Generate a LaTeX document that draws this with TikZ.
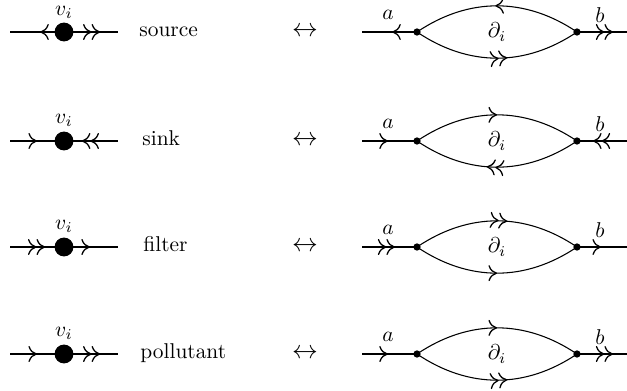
\documentclass[tikz,border=0pt]{standalone}
\usetikzlibrary{arrows.meta,decorations.markings}
\tikzset{
  tp/.tip={Computer Modern Rightarrow[length=4pt,width=7.5pt,line width=0.6pt]},
  fw/.style={postaction={decorate,decoration={markings,mark=at position #1 with {\arrow{tp}}}}},
  bw/.style={postaction={decorate,decoration={markings,mark=at position #1 with {\arrowreversed{tp}}}}},
  fww/.style={postaction={decorate,decoration={markings,mark=at position #1 with {\arrow{tp[]tp[]}}}}},
  bww/.style={postaction={decorate,decoration={markings,mark=at position #1 with {\arrowreversed{tp[]tp[]}}}}},
  bigdot/.style={circle,fill,inner sep=0pt,minimum size=8.8pt},
  smalldot/.style={circle,fill,inner sep=0pt,minimum size=3.4pt},
  lbl/.style={anchor=base west,inner sep=0pt},
  eqv/.style={font=\large},
  ln/.style={line width=0.5pt},
}
\begin{document}
\begin{tikzpicture}[x=0.467pt,y=-0.467pt]
\useasboundingbox (0,0) rectangle (627,390);
% Row 1: source (y=32)
\coordinate (L1) at (10,32); \node[bigdot] (V1) at (64,32) {}; \coordinate (R1) at (118,32);
\node at (64,12) {$v_i$};
\node[lbl] (t1) at (139,36.5) {source};
\node[eqv] (e1) at (305,32) {$\leftrightarrow$};
\coordinate (A1) at (362,32); \node[smalldot] (P1) at (417,32) {}; \node[smalldot] (Q1) at (577,32) {}; \coordinate (B1) at (627,32);
\node at (388,15) {$a$}; \node at (600,15) {$b$}; \node at (497,32) {$\partial_i$};
\draw[ln,bw=0.49] (P1.center) to[bend left=34] (Q1.center);
\draw[ln,fww=0.56] (P1.center) to[bend right=34] (Q1.center);
\draw[ln,bw=0.56] (L1) -- (V1.center);
\draw[ln,fww=0.67] (V1.center) -- (R1);
\draw[ln,bw=0.55] (A1) -- (P1.center);
\draw[ln,fww=0.72] (Q1.center) -- (B1);
% Row 2: sink (y=141)
\coordinate (L2) at (10,141); \node[bigdot] (V2) at (64,141) {}; \coordinate (R2) at (118,141);
\node at (64,120) {$v_i$};
\node[lbl] (t2) at (142,145.5) {sink};
\node[eqv] (e2) at (305,141) {$\leftrightarrow$};
\coordinate (A2) at (362,141); \node[smalldot] (P2) at (417,141) {}; \node[smalldot] (Q2) at (577,141) {}; \coordinate (B2) at (627,141);
\node at (388,124) {$a$}; \node at (600,124) {$b$}; \node at (497,141) {$\partial_i$};
\draw[ln,fw=0.5] (P2.center) to[bend left=34] (Q2.center);
\draw[ln,bww=0.44] (P2.center) to[bend right=34] (Q2.center);
\draw[ln,fw=0.5] (L2) -- (V2.center);
\draw[ln,bww=0.33] (V2.center) -- (R2);
\draw[ln,fw=0.47] (A2) -- (P2.center);
\draw[ln,bww=0.32] (Q2.center) -- (B2);
% Row 3: filter (y=247)
\coordinate (L3) at (10,247); \node[bigdot] (V3) at (64,247) {}; \coordinate (R3) at (118,247);
\node at (64,226) {$v_i$};
\node[lbl] (t3) at (143,251.5) {filter};
\node[eqv] (e3) at (305,247) {$\leftrightarrow$};
\coordinate (A3) at (362,247); \node[smalldot] (P3) at (417,247) {}; \node[smalldot] (Q3) at (577,247) {}; \coordinate (B3) at (627,247);
\node at (388,230) {$a$}; \node at (600,230) {$b$}; \node at (497,247) {$\partial_i$};
\draw[ln,fww=0.56] (P3.center) to[bend left=34] (Q3.center);
\draw[ln,fw=0.5] (P3.center) to[bend right=34] (Q3.center);
\draw[ln,fww=0.65] (L3) -- (V3.center);
\draw[ln,fw=0.48] (V3.center) -- (R3);
\draw[ln,fww=0.6] (A3) -- (P3.center);
\draw[ln,fw=0.48] (Q3.center) -- (B3);
% Row 4: pollutant (y=354)
\coordinate (L4) at (10,354); \node[bigdot] (V4) at (64,354) {}; \coordinate (R4) at (118,354);
\node at (64,333) {$v_i$};
\node[lbl] (t4) at (140,358.5) {pollutant};
\node[eqv] (e4) at (305,354) {$\leftrightarrow$};
\coordinate (A4) at (362,354); \node[smalldot] (P4) at (417,354) {}; \node[smalldot] (Q4) at (577,354) {}; \coordinate (B4) at (627,354);
\node at (388,337) {$a$}; \node at (600,337) {$b$}; \node at (497,354) {$\partial_i$};
\draw[ln,fw=0.5] (P4.center) to[bend left=34] (Q4.center);
\draw[ln,fww=0.56] (P4.center) to[bend right=34] (Q4.center);
\draw[ln,fw=0.5] (L4) -- (V4.center);
\draw[ln,fww=0.67] (V4.center) -- (R4);
\draw[ln,fw=0.47] (A4) -- (P4.center);
\draw[ln,fww=0.72] (Q4.center) -- (B4);
\end{tikzpicture}
\end{document}
